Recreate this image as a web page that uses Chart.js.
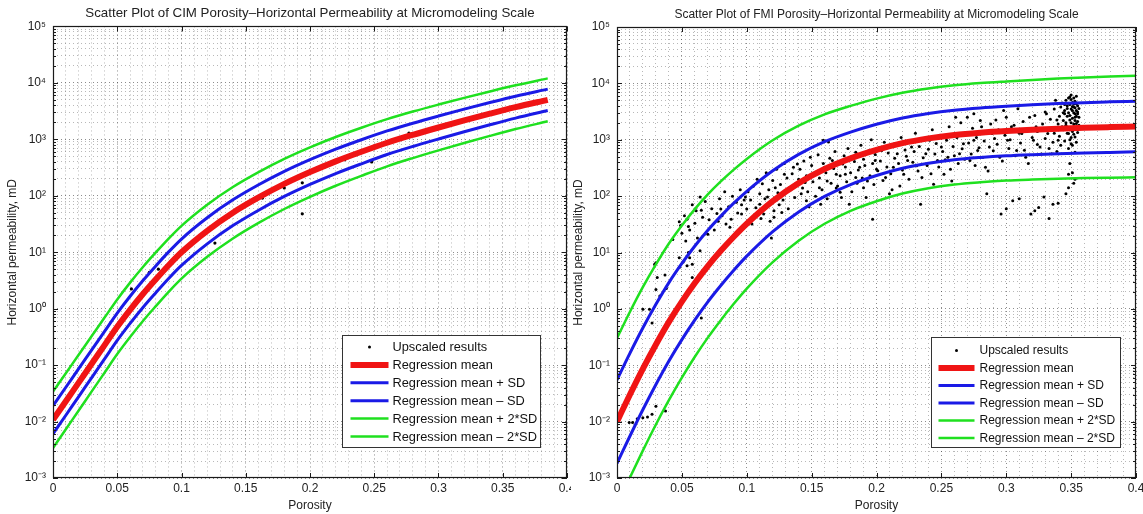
<!DOCTYPE html>
<html>
<head>
<meta charset="utf-8">
<script src="https://cdn.jsdelivr.net/npm/chart.js@4.4.1/dist/chart.umd.min.js"></script>
<style>
  html, body { margin: 0; padding: 0; background: #fff; }
  #wrap { position: relative; width: 1143px; height: 514px; overflow: hidden; }
  .pane { position: absolute; top: 0; height: 514px; }
  #paneLeft { left: 0; width: 571px; }
  #paneRight { left: 571px; width: 572px; }
</style>
</head>
<body>
<div id="wrap">
  <div class="pane" id="paneLeft"><canvas id="cimChart"></canvas></div>
  <div class="pane" id="paneRight"><canvas id="fmiChart"></canvas></div>
</div>
<script>
// ---- data ----
const legendLabels = ['Upscaled results', 'Regression mean', 'Regression mean + SD', 'Regression mean \u2013 SD', 'Regression mean + 2*SD', 'Regression mean \u2013 2*SD'];
const xTickLabels = ['0', '0.05', '0.1', '0.15', '0.2', '0.25', '0.3', '0.35', '0.4'];
const yTickValues = [1e-3, 1e-2, 1e-1, 1, 10, 100, 1000, 1e4, 1e5];
const yTickLabels = ['10\u207B\u00B3', '10\u207B\u00B2', '10\u207B\u00B9', '10\u2070', '10\u00B9', '10\u00B2', '10\u00B3', '10\u2074', '10\u2075'];

// CIM (left)
const cimPhi = [0, 0.01, 0.02, 0.03, 0.04, 0.05, 0.06, 0.07, 0.08, 0.09, 0.10, 0.12, 0.14, 0.16, 0.18, 0.20, 0.22, 0.24, 0.26, 0.28, 0.30, 0.32, 0.34, 0.36, 0.385];
const cimMean = [0.01072, 0.02291, 0.04898, 0.1047, 0.2239, 0.4786, 0.955, 1.82, 3.311, 5.888, 10.0, 23.99, 50.12, 93.33, 162.2, 263.0, 407.4, 602.6, 871.0, 1202, 1622, 2163, 2851, 3715, 5012];
const cimPlusSd = [0.01905, 0.04055, 0.0865, 0.1841, 0.3926, 0.8356, 1.663, 3.155, 5.728, 10.14, 17.14, 40.83, 84.72, 156.7, 270.4, 435.5, 669.9, 984.0, 1409, 1932, 2588, 3428, 4487, 5808, 7762];
const cimMinusSd = [0.006026, 0.01294, 0.02773, 0.05957, 0.1276, 0.2742, 0.5483, 1.05, 1.914, 3.42, 5.834, 14.09, 29.65, 55.59, 97.27, 158.9, 247.7, 369.0, 538.3, 748.2, 1016, 1365, 1811, 2377, 3236];
const cimPlus2Sd = [0.03388, 0.07178, 0.1528, 0.3236, 0.6887, 1.459, 2.897, 5.47, 9.908, 17.46, 29.38, 69.5, 143.2, 263.0, 450.8, 721.1, 1102, 1607, 2280, 3105, 4130, 5433, 7063, 9078, 12020];
const cimMinus2Sd = [0.003388, 0.007311, 0.0157, 0.03388, 0.07278, 0.157, 0.3148, 0.6053, 1.107, 1.986, 3.404, 8.279, 17.54, 33.11, 58.34, 95.94, 150.7, 225.9, 332.7, 465.6, 636.8, 861.0, 1151, 1521, 2089];
const cimPtsPhi = [0.035, 0.061, 0.075, 0.082, 0.090, 0.126, 0.163, 0.180, 0.194, 0.194, 0.200, 0.227, 0.235, 0.248, 0.277, 0.327];
const cimPtsK = [0.15, 2.24, 4.4, 5.0, 6.0, 14.5, 91, 138, 170, 48, 263, 436, 525, 398, 1290, 2450];

// FMI (right)
const fmiPhi = [0, 0.01, 0.02, 0.03, 0.04, 0.05, 0.06, 0.07, 0.08, 0.09, 0.10, 0.12, 0.14, 0.16, 0.18, 0.20, 0.22, 0.24, 0.26, 0.28, 0.30, 0.32, 0.34, 0.36, 0.38, 0.40];
const fmiMean = [0.01, 0.0302, 0.0871, 0.234, 0.589, 1.349, 2.884, 5.754, 10.72, 19.05, 32.36, 81.28, 169.8, 302.0, 467.7, 660.7, 871.0, 1059, 1216, 1334, 1429, 1507, 1574, 1629, 1675, 1718];
const fmiPlusSd = [0.055, 0.164, 0.462, 1.202, 2.917, 6.383, 13.03, 24.83, 44.16, 74.99, 121.6, 281.8, 549.5, 922.6, 1365, 1884, 2438, 2931, 3350, 3673, 3936, 4169, 4375, 4550, 4699, 4842];
const fmiMinusSd = [0.00182, 0.00556, 0.0164, 0.0457, 0.119, 0.285, 0.638, 1.334, 2.6, 4.842, 8.61, 23.44, 52.48, 98.86, 160.3, 231.7, 311.2, 382.8, 441.6, 484.2, 518.8, 544.5, 566.2, 583.4, 597.0, 609.5];
const fmiPlus2Sd = [0.302, 0.891, 2.455, 6.166, 14.45, 30.2, 58.88, 107.2, 182.0, 295.1, 457.1, 977.2, 1778, 2818, 3981, 5370, 6823, 8110, 9226, 10120, 10840, 11530, 12160, 12710, 13180, 13650];
const fmiMinus2Sd = [0.000331, 0.001023, 0.00309, 0.00891, 0.024, 0.0603, 0.1413, 0.309, 0.631, 1.23, 2.291, 6.761, 16.22, 32.36, 54.95, 81.28, 111.2, 138.4, 160.3, 175.8, 188.4, 196.8, 203.7, 208.9, 212.8, 216.3];
const fmiPtsPhi = [
  0.0094, 0.012, 0.0156, 0.0199, 0.0235, 0.027, 0.030, 0.0374,
  0.020, 0.025, 0.027, 0.030, 0.031, 0.030, 0.029, 0.037, 0.038, 0.033, 0.048, 0.051, 0.054, 0.056, 0.058, 0.058, 0.048, 0.065, 0.064, 0.055,
  0.043, 0.048, 0.049, 0.054, 0.055, 0.064, 0.061, 0.065, 0.070, 0.053, 0.077, 0.078, 0.080, 0.084, 0.092, 0.096, 0.099, 0.100, 0.104, 0.088,
  0.091, 0.096, 0.110, 0.113, 0.116, 0.118, 0.119, 0.121, 0.122, 0.125, 0.127, 0.129, 0.133, 0.136, 0.139, 0.140, 0.142, 0.145, 0.146, 0.149,
  0.152, 0.156, 0.157, 0.160, 0.162, 0.163, 0.166, 0.169, 0.170, 0.172, 0.174, 0.176, 0.179, 0.182, 0.184, 0.187, 0.190, 0.193, 0.197, 0.199,
  0.201, 0.204, 0.207, 0.210, 0.213, 0.216, 0.218, 0.221, 0.224, 0.227, 0.231, 0.234, 0.235, 0.238, 0.241, 0.244, 0.247, 0.250, 0.252, 0.255,
  0.258, 0.261, 0.264, 0.267, 0.270, 0.272, 0.275, 0.278, 0.281, 0.284, 0.287, 0.289, 0.292, 0.295, 0.296, 0.301, 0.304, 0.305, 0.308, 0.309,
  0.312, 0.315, 0.318, 0.319, 0.321, 0.323, 0.325, 0.326, 0.329, 0.331, 0.332, 0.335, 0.336, 0.338, 0.339, 0.340, 0.342, 0.343, 0.345, 0.346,
  0.348, 0.348, 0.348, 0.349, 0.349, 0.350, 0.351, 0.352, 0.352, 0.353, 0.353, 0.354, 0.354, 0.355, 0.346, 0.159, 0.261, 0.275, 0.298,
  0.050, 0.052, 0.056, 0.058, 0.060, 0.062, 0.066, 0.068, 0.071, 0.073, 0.075, 0.079, 0.081, 0.083, 0.086, 0.087, 0.089, 0.093, 0.095, 0.098,
  0.101, 0.103, 0.105, 0.107, 0.108, 0.110, 0.111, 0.112, 0.114, 0.115, 0.117, 0.118, 0.120, 0.121, 0.123, 0.124, 0.126, 0.128, 0.129, 0.131,
  0.132, 0.134, 0.135, 0.137, 0.138, 0.141, 0.143, 0.144, 0.146, 0.147, 0.148, 0.150, 0.151, 0.153, 0.154,
  0.155, 0.156, 0.158, 0.159, 0.161, 0.162, 0.164, 0.165, 0.167, 0.168, 0.169, 0.171, 0.172, 0.173, 0.175, 0.176, 0.177, 0.178, 0.180, 0.181,
  0.183, 0.184, 0.185, 0.186, 0.188, 0.189, 0.190, 0.191, 0.192, 0.194, 0.195, 0.196, 0.197, 0.198, 0.199, 0.200, 0.202, 0.203, 0.205, 0.206,
  0.208, 0.209, 0.211, 0.212, 0.214,
  0.215, 0.217, 0.219, 0.220, 0.222, 0.223, 0.225, 0.226, 0.228, 0.229, 0.230, 0.232, 0.233, 0.236, 0.237, 0.239, 0.240, 0.242, 0.243, 0.245,
  0.246, 0.248, 0.249, 0.251, 0.253, 0.254, 0.256, 0.257, 0.259, 0.260, 0.262, 0.263, 0.265, 0.266, 0.268, 0.269, 0.271, 0.273, 0.274, 0.276,
  0.277, 0.279, 0.280, 0.282, 0.283, 0.285, 0.286, 0.288, 0.290, 0.291,
  0.293, 0.294, 0.297, 0.299, 0.300, 0.302, 0.303, 0.306, 0.307, 0.310, 0.311, 0.313, 0.314, 0.316, 0.317, 0.320, 0.322, 0.324, 0.324, 0.327,
  0.328, 0.330, 0.330, 0.333, 0.333, 0.334, 0.336, 0.337, 0.337, 0.339, 0.340, 0.341, 0.341, 0.342, 0.343, 0.344, 0.344, 0.345, 0.345, 0.346,
  0.347, 0.347, 0.347, 0.348, 0.348,
  0.349, 0.349, 0.349, 0.350, 0.350, 0.350, 0.350, 0.351, 0.351, 0.351, 0.351, 0.352, 0.352, 0.352, 0.352, 0.353, 0.353, 0.353, 0.353, 0.354,
  0.354, 0.354, 0.354, 0.355, 0.355, 0.355, 0.355, 0.356, 0.356, 0.356, 0.349, 0.351, 0.352, 0.353, 0.354, 0.350, 0.352, 0.353, 0.351, 0.349,
  0.348, 0.347, 0.346, 0.345, 0.344, 0.285, 0.300, 0.310, 0.322, 0.333, 0.340
];
const fmiPtsK = [
  0.0096, 0.0096, 0.0112, 0.0117, 0.0121, 0.0135, 0.0187, 0.0155,
  0.98, 0.98, 0.56, 2.2, 3.6, 6.6, 6.2, 4.0, 2.3, 1.7, 8.1, 6.8, 5.8, 8.1, 6.2, 3.6, 5.4, 0.69, 10.7, 10,
  17, 35, 30, 39, 29, 96, 55, 56, 21, 16, 49, 36, 59, 32, 78, 70, 96, 59, 32, 39,
  21, 48, 72, 48, 96, 36, 18, 42, 141, 70, 51, 245, 141, 324, 372, 200, 110, 174, 83, 490,
  245, 141, 72, 324, 186, 912, 427, 245, 151, 117, 372, 245, 72, 490, 214, 324, 141, 186, 39, 427,
  282, 646, 214, 110, 324, 562, 151, 245, 427, 741, 347, 72, 214, 562, 977, 162, 427, 741, 245, 490,
  186, 1290, 562, 851, 2510, 427, 977, 646, 1700, 324, 741, 1290, 2240, 490, 48, 977, 1700, 83, 646, 3550,
  1290, 490, 2510, 48, 977, 1700, 63, 741, 96, 2880, 1290, 562, 72, 5010, 2240, 977, 3800, 1700, 2880, 5010,
  1290, 245, 141, 2240, 5750, 851, 3310, 1700, 3800, 2510, 1120, 4370, 1950, 2880, 110, 977, 2510, 2880, 3310,
  22, 45, 25, 70, 33, 18, 42, 80, 38, 60, 25, 90, 45, 120, 65, 28, 100, 50, 130, 85,
  120, 85, 150, 62, 200, 110, 40, 165, 90, 260, 130, 75, 190, 55, 300, 115, 160, 85, 380, 210,
  60, 130, 250, 95, 170, 300, 140, 420, 230, 120, 65, 350, 180, 100, 270,
  540, 210, 130, 380, 260, 90, 470, 170, 310, 620, 140, 400, 230, 95, 520, 330, 180, 700, 260, 120,
  410, 600, 170, 290, 800, 210, 450, 350, 95, 640, 230, 1000, 380, 160, 550, 300, 720, 420, 190, 900,
  330, 580, 250, 130, 470,
  820, 380, 1100, 290, 660, 510, 200, 950, 400, 620, 1300, 280, 760, 480, 1050, 350, 680, 250, 1500, 560,
  860, 330, 1200, 620, 440, 980, 1700, 300, 760, 520, 1100, 380, 2000, 690, 450, 1350, 880, 560, 1600, 350,
  1100, 720, 2200, 490, 950, 1400, 280, 1900, 640, 1050,
  830, 1500, 420, 1200, 2500, 700, 1000, 1800, 520, 1300, 880, 2100, 650, 1500, 380, 1100, 2700, 820, 1400, 560,
  1900, 1050, 3100, 700, 1600, 2300, 900, 1300, 3500, 620, 1900, 2600, 1150, 800, 4500, 1500, 2200, 3300, 950, 1800,
  2600, 4000, 1300, 3000, 700,
  1500, 2700, 4200, 1100, 2000, 3500, 5200, 1400, 2400, 4600, 800, 1900, 3000, 5500, 1250, 2200, 3700, 600, 4800, 1600,
  2600, 3300, 900, 2100, 4000, 1350, 3100, 2500, 1800, 3600, 380, 260, 170, 200, 5900, 6200, 4300, 2900, 3900, 1000,
  5500, 3600, 2000, 4200, 3000, 110, 60, 90, 55, 40, 75
];

// ---- drawing ----
const RED = '#f01414', BLUE = '#1a1ae6', GREEN = '#1fe01f';
const FONT = "'Liberation Sans', Arial, Helvetica, sans-serif";
Chart.defaults.font.family = FONT;
Chart.defaults.color = '#222';

const toPoints = (xs, ys) => xs.map((x, i) => ({ x, y: ys[i] }));

const matlabBox = {
  id: 'matlabBox',
  afterDatasetsDraw(chart) {
    const { ctx, chartArea: a, scales: { x, y } } = chart;
    ctx.save();
    ctx.strokeStyle = '#1a1a1a';
    ctx.lineWidth = 1;
    ctx.beginPath();
    x.ticks.forEach(t => {
      if (!t.major) return;
      const px = Math.round(x.getPixelForValue(t.value)) + 0.5;
      ctx.moveTo(px, a.bottom); ctx.lineTo(px, a.bottom - 5);
      ctx.moveTo(px, a.top); ctx.lineTo(px, a.top + 5);
    });
    y.ticks.forEach(t => {
      const py = Math.round(y.getPixelForValue(t.value)) + 0.5;
      const len = t.major ? 5 : 3;
      ctx.moveTo(a.left, py); ctx.lineTo(a.left + len, py);
      ctx.moveTo(a.right, py); ctx.lineTo(a.right - len, py);
    });
    ctx.stroke();
    ctx.lineWidth = 1.2;
    ctx.strokeRect(Math.round(a.left) + 0.5, Math.round(a.top) + 0.5, Math.round(a.right - a.left) - 1, Math.round(a.bottom - a.top) - 1);
    ctx.restore();
  }
};

const boxLegend = {
  id: 'boxLegend',
  afterDraw(chart, args, o) {
    const { ctx, chartArea: a } = chart;
    const bx = Math.round(a.right - o.right - o.width) + 0.5;
    const by = Math.round(a.bottom - o.bottom - o.height) + 0.5;
    ctx.save();
    ctx.fillStyle = '#fff';
    ctx.fillRect(bx, by, o.width, o.height);
    ctx.strokeStyle = '#333';
    ctx.lineWidth = 1;
    ctx.strokeRect(bx, by, o.width, o.height);
    ctx.font = o.fontSize + 'px ' + FONT;
    ctx.textBaseline = 'middle';
    chart.data.datasets.forEach((ds, i) => {
      const ry = by + o.first + i * o.rowGap;
      if (ds.showLine) {
        ctx.strokeStyle = ds.borderColor;
        ctx.lineWidth = ds.borderWidth;
        ctx.beginPath();
        ctx.moveTo(bx + o.sample0, ry);
        ctx.lineTo(bx + o.sample1, ry);
        ctx.stroke();
      } else {
        ctx.fillStyle = '#000';
        ctx.beginPath();
        ctx.arc(bx + (o.sample0 + o.sample1) / 2, ry, 1.5, 0, Math.PI * 2);
        ctx.fill();
      }
      ctx.fillStyle = '#111';
      ctx.fillText(ds.label, bx + o.textX, ry + 0.5);
    });
    ctx.restore();
  }
};

function lineSet(label, xs, ys, color, width, order) {
  return {
    label, data: toPoints(xs, ys), showLine: true, borderColor: color, backgroundColor: color,
    borderWidth: width, pointRadius: 0, cubicInterpolationMode: 'monotone', order
  };
}

function makeChart(id, s) {
  const gridColor = c => (c.tick && c.tick.major) ? 'rgba(0,0,0,0.45)' : 'rgba(0,0,0,0.28)';
  return new Chart(document.getElementById(id), {
    type: 'scatter',
    data: {
      datasets: [
        { label: legendLabels[0], data: toPoints(s.ptsPhi, s.ptsK), showLine: false, pointRadius: s.dot, pointHoverRadius: s.dot,
          backgroundColor: '#000', borderWidth: 0, order: 10 },
        lineSet(legendLabels[1], s.phi, s.mean, RED, 6, 4),
        lineSet(legendLabels[2], s.phi, s.plusSd, BLUE, 3, 3),
        lineSet(legendLabels[3], s.phi, s.minusSd, BLUE, 3, 2),
        lineSet(legendLabels[4], s.phi, s.plus2Sd, GREEN, 2.5, 1),
        lineSet(legendLabels[5], s.phi, s.minus2Sd, GREEN, 2.5, 0)
      ]
    },
    options: {
      responsive: true,
      maintainAspectRatio: false,
      animation: false,
      layout: { padding: { top: s.padTop, right: s.padRight, bottom: 0, left: 0 } },
      plugins: {
        legend: { display: false },
        tooltip: { enabled: false },
        title: {
          display: true, text: s.title, fullSize: false, color: '#222',
          font: { size: s.titleSize, weight: 'normal' }, padding: { top: 5, bottom: 5 }
        },
        boxLegend: s.legend
      },
      scales: {
        x: {
          type: 'linear', min: 0, max: 0.4,
          afterBuildTicks(scale) {
            const ticks = [];
            for (let i = 0; i <= 40; i++) ticks.push({ value: i / 100, major: i % 5 === 0 });
            scale.ticks = ticks;
          },
          afterFit(scale) { scale.height = 36; scale.paddingLeft = 0; scale.paddingRight = 0; },
          ticks: {
            autoSkip: false, maxRotation: 0, padding: 3, color: '#222', font: { size: 12 },
            callback: (v, i, ticks) => ticks[i].major ? xTickLabels[i / 5] : ''
          },
          grid: { color: gridColor, lineWidth: 1, drawTicks: false },
          border: { display: false, dash: [1, 3] },
          title: { display: true, text: 'Porosity', color: '#222', font: { size: 12 }, padding: { top: 0, bottom: 1 } }
        },
        y: {
          type: 'logarithmic', min: 1e-3, max: 1e5,
          afterBuildTicks(scale) {
            const ticks = [];
            yTickValues.forEach((v, i) => {
              ticks.push({ value: v, major: true });
              if (i < yTickValues.length - 1) for (let m = 2; m <= 9; m++) ticks.push({ value: m * v });
            });
            scale.ticks = ticks;
          },
          afterFit(scale) { scale.width = s.yWidth; },
          ticks: {
            autoSkip: false, padding: 7, color: '#222', font: { size: 12 },
            callback: (v, i, ticks) => ticks[i].major ? yTickLabels[yTickValues.indexOf(v)] : ''
          },
          grid: { color: gridColor, lineWidth: 1, drawTicks: false },
          border: { display: false, dash: [1, 3] },
          title: { display: true, text: 'Horizontal permeability, mD', color: '#222', font: { size: 12 }, padding: { top: s.yTitlePad, bottom: 0 } }
        }
      }
    },
    plugins: [matlabBox, boxLegend]
  });
}

makeChart('cimChart', {
  title: 'Scatter Plot of CIM Porosity\u2013Horizontal Permeability at Micromodeling Scale',
  titleSize: 13.3, padTop: 0.5, padRight: 4, yWidth: 53, yTitlePad: 5, dot: 1.6,
  phi: cimPhi, mean: cimMean, plusSd: cimPlusSd, minusSd: cimMinusSd, plus2Sd: cimPlus2Sd, minus2Sd: cimMinus2Sd,
  ptsPhi: cimPtsPhi, ptsK: cimPtsK,
  legend: { right: 27, bottom: 31, width: 198, height: 112, first: 11.5, rowGap: 17.9, sample0: 8, sample1: 46, textX: 50, fontSize: 12.8 }
});

makeChart('fmiChart', {
  title: 'Scatter Plot of FMI Porosity\u2013Horizontal Permeability at Micromodeling Scale',
  titleSize: 12, padTop: 2.6, padRight: 7, yWidth: 46, yTitlePad: 0, dot: 1.5,
  phi: fmiPhi, mean: fmiMean, plusSd: fmiPlusSd, minusSd: fmiMinusSd, plus2Sd: fmiPlus2Sd, minus2Sd: fmiMinus2Sd,
  ptsPhi: fmiPtsPhi, ptsK: fmiPtsK,
  legend: { right: 16, bottom: 31, width: 189, height: 110, first: 13, rowGap: 17.5, sample0: 7, sample1: 43, textX: 48, fontSize: 12 }
});
</script>
</body>
</html>
